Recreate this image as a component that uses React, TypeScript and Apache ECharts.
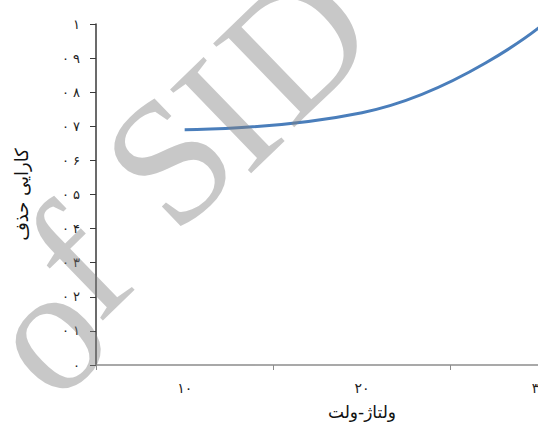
import React, { useEffect, useRef } from "react";
import * as echarts from "echarts";

const categories = ["۱۰", "۲۰", "۳۰"];
const efficiency = [0.69, 0.74, 0.99];
const yTickLabels = ["۰", "۰ ۱", "۰ ۲", "۰ ۳", "۰ ۴", "۰ ۵", "۰ ۶", "۰ ۷", "۰ ۸", "۰ ۹", "۱"];
const xAxisTitle = "ولتاژ-ولت";
const yAxisTitle = "کارایی حذف";
const watermarkGlyphs = ["o", "f", "S", "I", "D"];
const watermarkCenters = [
  [45, 332],
  [77, 262],
  [169, 160],
  [226, 114],
  [295, 43],
];

export default function App() {
  const ref = useRef<HTMLDivElement>(null);
  useEffect(() => {
    if (!ref.current) return;
    const chart = echarts.init(ref.current, null, { renderer: "svg" });
    const fa = "'DejaVu Sans', 'Noto Sans', sans-serif";
    chart.setOption({
      animation: false,
      backgroundColor: "#ffffff",
      grid: { left: 96, right: 0, top: 24, bottom: 51, containLabel: false },
      xAxis: {
        type: "category",
        data: categories,
        boundaryGap: true,
        name: xAxisTitle,
        nameLocation: "middle",
        nameGap: 38,
        nameTextStyle: { fontFamily: fa, fontSize: 17, color: "#111" },
        axisLine: { lineStyle: { color: "#8c8c8c", width: 1.5 } },
        axisTick: { show: true, inside: false, length: 5, lineStyle: { color: "#8c8c8c" } },
        axisLabel: { fontFamily: fa, fontSize: 14, color: "#222", margin: 16 },
        splitLine: { show: false },
      },
      yAxis: {
        type: "value",
        min: 0,
        max: 1,
        interval: 0.1,
        name: yAxisTitle,
        nameLocation: "middle",
        nameRotate: 90,
        nameGap: 66,
        nameTextStyle: { fontFamily: fa, fontSize: 18, color: "#111" },
        axisLine: { show: true, lineStyle: { color: "#3a3a3a", width: 1.5 } },
        axisTick: { show: true, inside: false, length: 6, lineStyle: { color: "#3a3a3a" } },
        axisLabel: {
          fontFamily: fa,
          fontSize: 13,
          color: "#222",
          margin: 16,
          formatter: (v: number) => yTickLabels[Math.round(v * 10)] ?? "",
        },
        splitLine: { show: false },
      },
      series: [
        {
          type: "line",
          data: efficiency,
          smooth: true,
          symbol: "none",
          lineStyle: { color: "#4a7ebb", width: 3 },
        },
      ],
      graphic: watermarkGlyphs.map((g, i) => ({
        type: "text",
        x: watermarkCenters[i][0],
        y: watermarkCenters[i][1],
        rotation: 0.768,
        z: 100,
        silent: true,
        style: {
          text: g,
          fontSize: 178,
          fontFamily: "'Liberation Serif', 'Times New Roman', serif",
          fill: "rgba(128,128,128,0.43)",
          align: "center",
          verticalAlign: "middle",
        },
      })),
    });
    return () => chart.dispose();
  }, []);
  return (
    <div style={{ position: "fixed", left: 0, top: 0, width: 538, height: 425, overflow: "hidden", background: "#fff" }}>
      <div ref={ref} style={{ width: 628, height: 425 }} />
    </div>
  );
}
